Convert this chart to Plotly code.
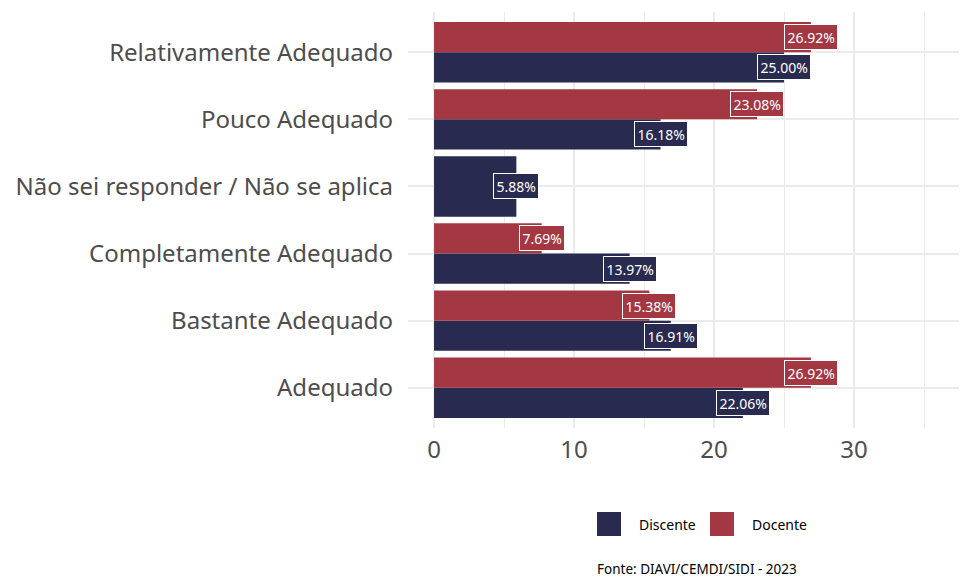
import plotly.graph_objects as go

categories = ["Adequado", "Bastante Adequado", "Completamente Adequado",
              "Não sei responder / Não se aplica", "Pouco Adequado", "Relativamente Adequado"]
discente = [22.06, 16.91, 13.97, 5.88, 16.18, 25.00]
docente = [26.92, 15.38, 7.69, None, 23.08, 26.92]
series_names = ["Discente", "Docente"]
colors = {"Discente": "#292a4f", "Docente": "#a33843"}
x_ticks = [0, 10, 20, 30]
caption = "Fonte: DIAVI/CEMDI/SIDI - 2023"

FONT = "Noto Sans"
OFF = 8  # page body margin
W, H = 967 - OFF, 578 - OFF
L, R, T, B = 408 - OFF, 967 - OFF, 12 - OFF, 428 - OFF  # plot area, figure pixels

def px(xp):  # xp: page pixel
    return (xp - OFF - L) / (R - L)

def py(yp):
    return (B - (yp - OFF)) / (B - T)

ypos = list(range(len(categories)))
half = 0.45

d_w, d_o, o_w, o_o = [], [], [], []
for dv, ov in zip(discente, docente):
    if ov is None:
        d_w.append(2 * half); d_o.append(-half)
    else:
        d_w.append(half); d_o.append(-half)
    o_w.append(half); o_o.append(0)

fig = go.Figure()
fig.add_trace(go.Bar(y=ypos, x=discente, orientation="h", name="Discente",
                     marker=dict(color=colors["Discente"], line=dict(width=0)),
                     width=d_w, offset=d_o, showlegend=False))
fig.add_trace(go.Bar(y=ypos, x=[v if v is not None else 0 for v in docente], orientation="h",
                     name="Docente", marker=dict(color=colors["Docente"], line=dict(width=0)),
                     width=o_w, offset=o_o, showlegend=False))

annotations = []
for i, (dv, ov) in enumerate(zip(discente, docente)):
    for val, name, w, o in ((dv, "Discente", d_w[i], d_o[i]), (ov, "Docente", o_w[i], o_o[i])):
        if val is None:
            continue
        annotations.append(dict(
            x=val, y=i + o + w / 2, xref="x", yref="y",
            text=f"{val:.2f}%", showarrow=False,
            font=dict(family=FONT, size=14, color="white"),
            bgcolor=colors[name], bordercolor="white", borderwidth=1, borderpad=2.5,
            xanchor="center", yanchor="middle"))

shapes = []
leg_items = [("Discente", 597, 637), ("Docente", 710, 750)]
for name, kx, tx in leg_items:
    shapes.append(dict(type="rect", xref="paper", yref="paper",
                       x0=px(kx), x1=px(kx + 24), y0=py(536), y1=py(512),
                       fillcolor=colors[name], line=dict(width=0)))
    annotations.append(dict(x=px(tx), y=py(524), xref="paper", yref="paper",
                            text=name, showarrow=False, xanchor="left", yanchor="middle",
                            font=dict(family=FONT, size=14, color="black")))
annotations.append(dict(x=px(799), y=py(569), xref="paper", yref="paper",
                        text=caption, showarrow=False, xanchor="right", yanchor="middle",
                        font=dict(family=FONT, size=13.5, color="black")))

fig.update_layout(
    width=W, height=H,
    margin=dict(l=L, r=W - R, t=T, b=H - B, pad=0),
    paper_bgcolor="white", plot_bgcolor="white",
    barmode="overlay",
    font=dict(family=FONT, color="#4d4d4d"),
    annotations=annotations, shapes=shapes,
    showlegend=False,
)
fig.update_xaxes(range=[-1.86, 38.07], tickvals=x_ticks, ticktext=[str(t) for t in x_ticks],
                 showgrid=True, gridcolor="#ebebeb", gridwidth=1.6,
                 minor=dict(showgrid=True, dtick=5, tick0=5, gridcolor="#ebebeb", gridwidth=0.9),
                 zeroline=False, showline=False, ticks="",
                 tickfont=dict(family=FONT, size=24, color="#4d4d4d"),
                 ticklabelstandoff=5, automargin=False)
fig.update_yaxes(range=[-0.6, 5.6], tickvals=ypos, ticktext=categories,
                 showgrid=True, gridcolor="#ebebeb", gridwidth=1.6,
                 zeroline=False, showline=False, ticks="",
                 tickfont=dict(family=FONT, size=24, color="#4d4d4d"),
                 ticklabelstandoff=14, automargin=False)

fig.write_html("out.html")
